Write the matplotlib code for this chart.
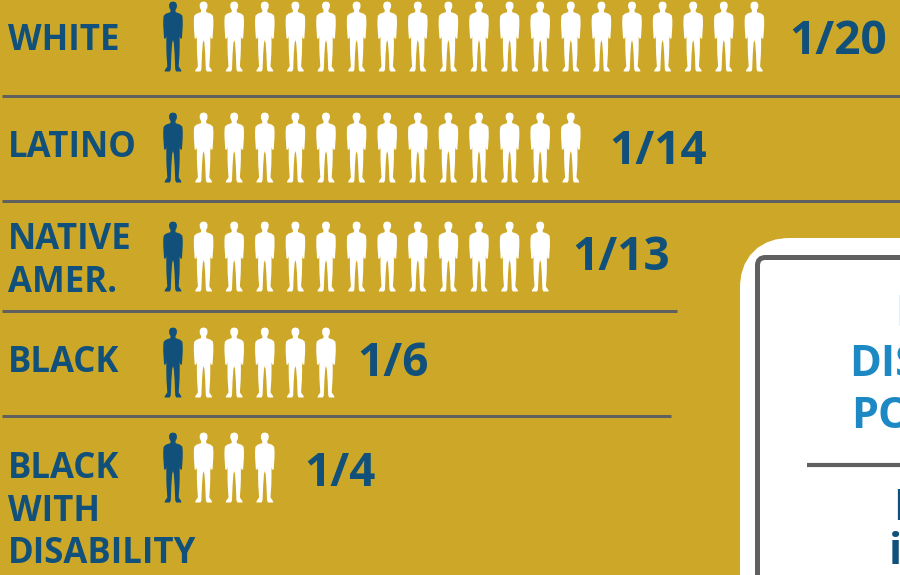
import matplotlib
matplotlib.use("Agg")
import matplotlib.pyplot as plt
import numpy as np
from matplotlib.path import Path
from matplotlib.patches import FancyBboxPatch

categories = ["WHITE", "LATINO", "NATIVE\nAMER.", "BLACK", "BLACK\nWITH\nDISABILITY"]
denominators = [20, 14, 13, 6, 4]
fractions = ["1/20", "1/14", "1/13", "1/6", "1/4"]

BG = "#CDA828"; DARK = "#10507A"; LIGHT = "#1C88C4"; GREY = "#606060"
FONT = "Open Sans"

fig = plt.figure(figsize=(9, 5.75), dpi=100, facecolor=BG)
ax = fig.add_axes([0, 0, 1, 1])
ax.set_xlim(0, 900); ax.set_ylim(575, 0); ax.axis("off")

# person silhouette glyph: half outline, top to bottom, mirrored
half = [(0, 0), (2.6, .7), (3.9, 3), (3.7, 6), (2.4, 8.6), (2.6, 10.5), (7, 12), (9.2, 14), (9.6, 18),
        (9.6, 24), (8.8, 36.5), (7.2, 36.5), (6.6, 34), (6.6, 44), (6.4, 52), (5.6, 64), (8, 67.5),
        (8.3, 69), (3.2, 69), (2.2, 67), (1.6, 52), (.8, 41), (0, 38)]
pts = [(x, 34.5 - y) for x, y in half] + [(-x, 34.5 - y) for x, y in half[::-1]]
person = Path(np.array(pts) / 35.0, closed=False)
marker_px = 70
s = (marker_px * 72 / 100) ** 2

row_y = [36.5, 147.5, 256.5, 362.5, 467.5]
x0, dx = 173, 30.6
for n, y in zip(denominators, row_y):
    xs = x0 + dx * np.arange(n)
    ax.scatter(xs, [y] * n, marker=person, s=s, c=[DARK] + ["white"] * (n - 1), linewidths=0, zorder=3)

frac_x = [789, 609, 572, 357, 304]
frac_y = [41, 151, 258, 363, 473]
for f, x, y in zip(fractions, frac_x, frac_y):
    ax.text(x, y, f, color=DARK, fontsize=33, fontweight="bold", family=FONT, va="center", ha="left")

label_y = [[41], [148], [240, 283], [363], [469, 512, 554]]
for c, ys in zip(categories, label_y):
    for line, y in zip(c.split("\n"), ys):
        ax.text(8, y, line, color=DARK, fontsize=25, fontweight="bold", family=FONT, va="center", ha="left")

for y, x1 in [(96, 900), (201, 900), (311, 677), (416, 671)]:
    ax.plot([2, x1], [y, y], color=GREY, lw=2.2, solid_capstyle="butt", zorder=2)

ax.add_patch(FancyBboxPatch((765, 263), 300, 400, boxstyle="round,pad=0,rounding_size=25",
                            mutation_scale=1, fc="white", ec="white", lw=36, zorder=4, clip_on=True))
ax.add_patch(FancyBboxPatch((757.5, 257.5), 300, 400, boxstyle="round,pad=0,rounding_size=8",
                            mutation_scale=1, fc="white", ec=GREY, lw=3.6, zorder=5))
ax.plot([807, 900], [465, 465], color=GREY, lw=3, solid_capstyle="butt", zorder=6)

for txt, x, y, col in [("P", 895, 314, LIGHT), ("DIS", 849, 365, LIGHT), ("PO", 851, 416, LIGHT),
                       ("P", 893, 508, DARK)]:
    ax.text(x, y, txt, color=col, fontsize=31, fontweight="bold", family=FONT, va="center", ha="left", zorder=7)
ax.text(889, 553, "i", color=DARK, fontsize=31, fontweight="bold", family=FONT, va="center", ha="left", zorder=7)

fig.savefig("out.png", dpi=100, facecolor=BG)
